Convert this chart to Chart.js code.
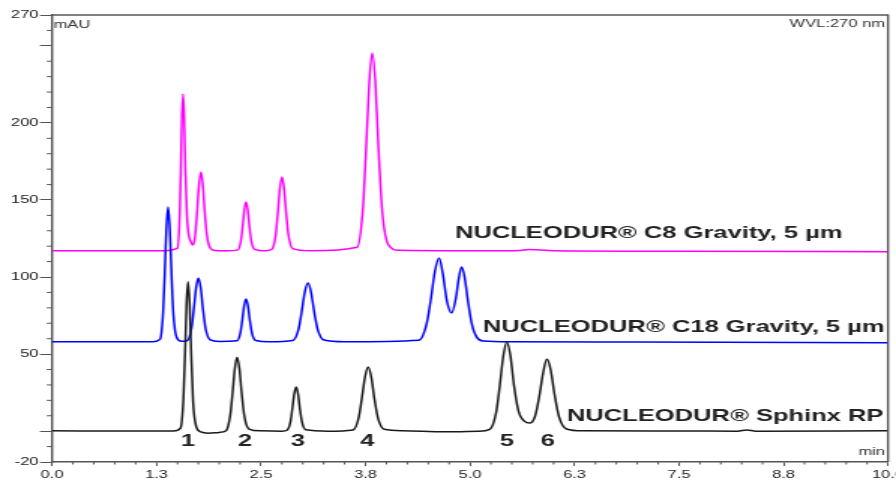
<!DOCTYPE html>
<html>
<head>
<meta charset="utf-8">
<script src="https://cdn.jsdelivr.net/npm/chart.js@4.4.1/dist/chart.umd.min.js"></script>
<style>
    html, body { margin: 0; padding: 0; background: #fff; overflow: hidden; }
    /* the original picture is stretched sideways, so the chart is drawn narrow and widened */
    #wrap { width: 597px; height: 481px; transform: scaleX(1.500838); transform-origin: 0 0; }
</style>
</head>
<body>
<div id="wrap"><canvas id="chromChart" width="597" height="481"></canvas></div>
<script>
// Data (time in min, signal in mAU)
const sphinxTime = [0, 1.0, 1.45,
    1.537, 1.571, 1.590, 1.608, 1.627, 1.646, 1.665, 1.687, 1.725,
    1.78, 1.87, 2.0,
    2.081, 2.131, 2.158, 2.186, 2.213, 2.241, 2.268, 2.301, 2.356,
    2.5, 2.75,
    2.811, 2.852, 2.874, 2.897, 2.919, 2.942, 2.964, 2.991, 3.036,
    3.3,
    3.60, 3.668, 3.705, 3.743, 3.78, 3.818, 3.855, 3.90, 3.975,
    4.2, 4.7, 5.1,
    5.236, 5.313, 5.355, 5.398, 5.44, 5.483, 5.525, 5.58, 5.65,
    5.72, 5.78, 5.83, 5.875, 5.92, 5.965, 6.01, 6.064, 6.154,
    6.35, 7.5, 8.2, 8.31, 8.42, 10];
const sphinxMau = [0.2, 0.1, 0.1,
    2, 20.4, 48.5, 81.5, 97, 82.5, 50.4, 19.4, 2.9,
    -0.5, -1.3, -0.8,
    0.3, 10.1, 24, 40.3, 48, 40.8, 25, 9.6, 1.4,
    0.2, 0,
    0.6, 6, 14.4, 24.1, 28.7, 24.4, 14.9, 5.7, 0.9,
    0,
    0.8, 8.7, 20.8, 34.9, 41.6, 35.4, 21.6, 8.3, 1.2,
    0.3, -0.4, 0,
    1.2, 12.2, 29, 48.6, 57.9, 49, 30, 13, 6.5,
    5.3, 10, 23, 38, 46.8, 39.8, 24.3, 9.4, 1.4,
    0.2, 0.1, 0, 0.8, 0, 0.2];

const c18Time = [0, 1.2,
    1.292, 1.328, 1.348, 1.368, 1.388, 1.408, 1.428, 1.452, 1.492,
    1.55,
    1.618, 1.668, 1.695, 1.723, 1.75, 1.778, 1.805, 1.838, 1.893,
    2.0,
    2.212, 2.253, 2.275, 2.298, 2.32, 2.343, 2.365, 2.392, 2.437,
    2.6,
    2.88, 2.948, 2.985, 3.023, 3.06, 3.098, 3.135, 3.18, 3.255,
    3.5,
    4.39, 4.48, 4.53, 4.58, 4.63, 4.675, 4.725, 4.78, 4.83, 4.865,
    4.90, 4.935, 4.975, 5.02, 5.08, 5.16,
    5.5, 7.0, 10];
const c18Mau = [58, 58,
    59.6, 76.4, 101.7, 131.4, 145.4, 132.3, 103.4, 75.5, 60.6,
    58.3,
    58.8, 66.7, 78.7, 92.8, 99.4, 93.2, 79.5, 66.3, 59.2,
    58.2,
    58.6, 63.8, 71.9, 81.3, 85.7, 81.5, 72.4, 63.5, 58.8,
    58,
    58.8, 66, 77, 90, 96.1, 90.4, 77.8, 65.6, 59.1,
    58,
    59, 69.4, 85, 103.6, 112.3, 102, 84, 76.7, 86, 99,
    106.5, 100, 84.5, 70, 61, 58.5,
    58, 57.8, 57.4];

const c8Time = [0, 1.3,
    1.501, 1.526, 1.540, 1.553, 1.567, 1.581, 1.595, 1.612, 1.63,
    1.66, 1.683, 1.705, 1.73, 1.755, 1.78, 1.803, 1.825, 1.852, 1.897,
    1.95, 2.1,
    2.224, 2.26, 2.28, 2.30, 2.32, 2.34, 2.36, 2.384, 2.424,
    2.55,
    2.63, 2.675, 2.70, 2.725, 2.75, 2.775, 2.80, 2.83, 2.88,
    3.1,
    3.65, 3.718, 3.755, 3.793, 3.83, 3.868, 3.905, 3.95, 4.025,
    4.15, 5.0, 5.6, 5.7, 5.85, 5.98, 7.5, 10];
const c8Mau = [117, 117,
    118.8, 138.4, 167.9, 202.4, 218.7, 203.4, 170, 142, 129,
    123, 120.8, 124, 138, 158, 168.1, 160.5, 143.5, 127.2, 118.5,
    117.2, 117,
    117.6, 123.7, 132.9, 143.6, 148.7, 143.9, 133.5, 123.3, 118,
    117,
    118, 127, 141, 157.2, 164.9, 157.7, 141.9, 126.6, 118.4,
    117,
    119.3, 143.9, 181.2, 224.8, 245.3, 226, 183.7, 142.7, 120.8,
    117.3, 117, 117.2, 117.8, 117.6, 117, 116.7, 116.4];

const traceNames = ['NUCLEODUR® Sphinx RP', 'NUCLEODUR® C18 Gravity, 5 µm', 'NUCLEODUR® C8 Gravity, 5 µm'];
const traceColors = ['#1a1a1a', '#0000ff', '#ff00ff'];

const peakNumbers = ['1', '2', '3', '4', '5', '6'];
const peakTimes = [1.627, 2.31, 2.94, 3.77, 5.44, 5.93];

// Axis ticks
const xMajorTicks = [0, 1.25, 2.5, 3.75, 5, 6.25, 7.5, 8.75, 10];
const yMajorTicks = [-20, 0, 50, 100, 150, 200, 250, 270];
const yLabelTicks = [-20, 50, 100, 150, 200, 270];

// Where the text sits, in axis units
const traceNameSpots = [{ x: 6.16, y: 9.8 }, { x: 5.155, y: 67.6 }, { x: 4.82, y: 128.6 }];
const peakNumberY = -6.4;

const axisColor = '#555';
const textColor = '#222';
const FONT = '"Liberation Sans", Arial, sans-serif';

Chart.defaults.font.family = FONT;

function toPoints(times, values) {
    return times.map((t, i) => ({ x: t, y: values[i] }));
}

// Minor ticks, frame, and labels
const overlayPlugin = {
    id: 'overlay',
    afterDraw(chart) {
        const { ctx, chartArea: a, scales: { x, y } } = chart;
        ctx.save();

        // top and right frame
        ctx.strokeStyle = axisColor;
        ctx.lineWidth = 1.4;
        ctx.beginPath();
        ctx.moveTo(a.left, a.top);
        ctx.lineTo(a.right, a.top);
        ctx.lineTo(a.right, a.bottom);
        ctx.stroke();

        // minor ticks
        ctx.lineWidth = 1;
        ctx.beginPath();
        for (let v = -20; v <= 270; v += 10) {
            if (yMajorTicks.includes(v)) continue;
            const py = y.getPixelForValue(v);
            ctx.moveTo(a.left - 3.5, py);
            ctx.lineTo(a.left, py);
        }
        for (let i = 1; i < 40; i++) {
            if (i % 5 === 0) continue;
            const px = x.getPixelForValue(i * 0.25);
            ctx.moveTo(px, a.bottom - 1);
            ctx.lineTo(px, a.bottom + 2.5);
        }
        ctx.stroke();

        // unit labels
        ctx.fillStyle = '#333';
        ctx.font = '11px ' + FONT;
        ctx.textBaseline = 'alphabetic';
        ctx.textAlign = 'left';
        ctx.fillText('mAU', a.left + 1, a.top + 12.5);
        ctx.textAlign = 'right';
        ctx.fillText('WVL:270 nm', a.right - 2, a.top + 11.5);
        ctx.fillText('min', a.right - 2, a.bottom - 7);

        // trace names
        ctx.fillStyle = textColor;
        ctx.font = 'bold 17px ' + FONT;
        ctx.textBaseline = 'middle';
        ctx.textAlign = 'left';
        traceNames.forEach((name, i) => {
            const spot = traceNameSpots[i];
            ctx.fillText(name, x.getPixelForValue(spot.x), y.getPixelForValue(spot.y));
        });

        // peak numbers
        ctx.textAlign = 'center';
        peakNumbers.forEach((n, i) => {
            ctx.fillText(n, x.getPixelForValue(peakTimes[i]), y.getPixelForValue(peakNumberY));
        });

        ctx.restore();
    }
};

const chromChart = new Chart(document.getElementById('chromChart'), {
    type: 'line',
    data: {
        datasets: [
            { label: traceNames[0], data: toPoints(sphinxTime, sphinxMau), borderColor: traceColors[0] },
            { label: traceNames[1], data: toPoints(c18Time, c18Mau), borderColor: traceColors[1] },
            { label: traceNames[2], data: toPoints(c8Time, c8Mau), borderColor: traceColors[2] }
        ]
    },
    options: {
        responsive: false,
        devicePixelRatio: 1,
        animation: false,
        datasets: {
            line: {
                borderWidth: 1.5,
                pointRadius: 0,
                cubicInterpolationMode: 'monotone',
                fill: false
            }
        },
        layout: {
            padding: { left: 0, top: 15, right: 5.33, bottom: 0 }
        },
        plugins: {
            legend: { display: false },
            tooltip: { enabled: false }
        },
        scales: {
            x: {
                type: 'linear',
                min: 0,
                max: 10,
                afterBuildTicks: (scale) => {
                    scale.ticks = xMajorTicks.map(v => ({ value: v }));
                },
                afterFit: (scale) => {
                    scale.height = 19;
                    scale.paddingLeft = 0;
                    scale.paddingRight = 0;
                },
                ticks: {
                    autoSkip: false,
                    maxRotation: 0,
                    padding: 2,
                    color: textColor,
                    font: { size: 11 },
                    callback: (value) => Number(value).toFixed(1)
                },
                grid: {
                    drawOnChartArea: false,
                    drawTicks: true,
                    tickLength: 4,
                    tickColor: axisColor,
                    tickWidth: 1
                },
                border: { display: true, color: axisColor, width: 1.4 }
            },
            y: {
                type: 'linear',
                min: -20,
                max: 270,
                afterBuildTicks: (scale) => {
                    scale.ticks = yMajorTicks.map(v => ({ value: v }));
                },
                afterFit: (scale) => {
                    scale.width = 34.65;
                    scale.paddingTop = 0;
                    scale.paddingBottom = 0;
                },
                ticks: {
                    autoSkip: false,
                    padding: 1,
                    color: textColor,
                    font: { size: 11 },
                    callback: (value) => yLabelTicks.includes(value) ? String(value) : ''
                },
                grid: {
                    drawOnChartArea: false,
                    drawTicks: true,
                    tickLength: 8,
                    tickColor: axisColor,
                    tickWidth: 1
                },
                border: { display: true, color: axisColor, width: 1.4 }
            }
        }
    },
    plugins: [overlayPlugin]
});
</script>
</body>
</html>
